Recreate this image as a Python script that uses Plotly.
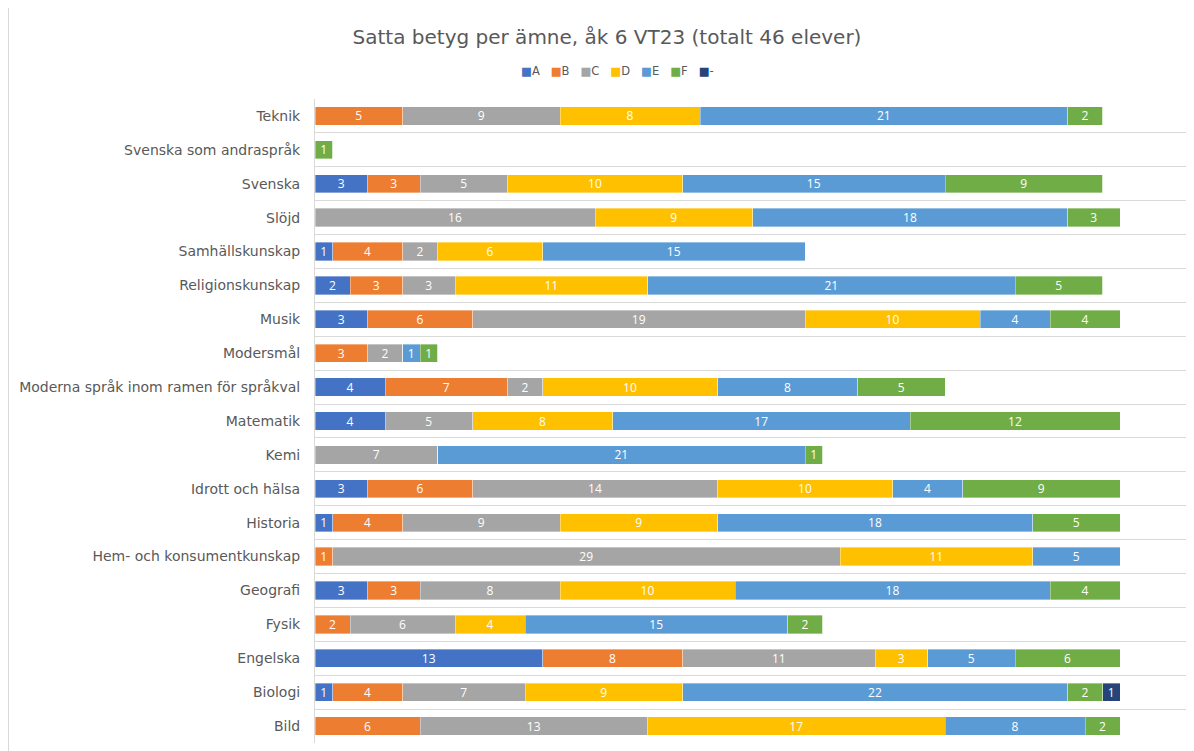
import plotly.graph_objects as go

subjects = ["Bild", "Biologi", "Engelska", "Fysik", "Geografi",
            "Hem- och konsumentkunskap", "Historia", "Idrott och hälsa", "Kemi",
            "Matematik", "Moderna språk inom ramen för språkval", "Modersmål",
            "Musik", "Religionskunskap", "Samhällskunskap", "Slöjd", "Svenska",
            "Svenska som andraspråk", "Teknik"]

grade_A = [0, 1, 13, 0, 3, 0, 1, 3, 0, 4, 4, 0, 3, 2, 1, 0, 3, 0, 0]
grade_B = [6, 4, 8, 2, 3, 1, 4, 6, 0, 0, 7, 3, 6, 3, 4, 0, 3, 0, 5]
grade_C = [13, 7, 11, 6, 8, 29, 9, 14, 7, 5, 2, 2, 19, 3, 2, 16, 5, 0, 9]
grade_D = [17, 9, 3, 4, 10, 11, 9, 10, 0, 8, 10, 0, 10, 11, 6, 9, 10, 0, 8]
grade_E = [8, 22, 5, 15, 18, 5, 18, 4, 21, 17, 8, 1, 4, 21, 15, 18, 15, 0, 21]
grade_F = [2, 2, 6, 2, 4, 0, 5, 9, 1, 12, 5, 1, 4, 5, 0, 3, 9, 1, 2]
grade_dash = [0, 1, 0, 0, 0, 0, 0, 0, 0, 0, 0, 0, 0, 0, 0, 0, 0, 0, 0]

grade_names = ["A", "B", "C", "D", "E", "F", "-"]
grade_values = [grade_A, grade_B, grade_C, grade_D, grade_E, grade_F, grade_dash]
grade_colors = ["#4472C4", "#ED7D31", "#A5A5A5", "#FFC000", "#5B9BD5", "#70AD47", "#264478"]

LABEL_FONT = "DejaVu Sans"
BAR_FONT = "Open Sans"
GRAY = "#595959"

fig = go.Figure()
for name, vals, color in zip(grade_names, grade_values, grade_colors):
    fig.add_trace(go.Bar(
        name=name,
        y=subjects,
        x=vals,
        orientation="h",
        marker=dict(color=color, line=dict(width=0.8, color="rgba(255,255,255,0.45)")),
        text=[str(v) if v else "" for v in vals],
        textposition="inside",
        insidetextanchor="middle",
        textangle=0,
        textfont=dict(color="white", size=12, family=BAR_FONT),
        showlegend=False,
    ))

# legend drawn as one line of text: coloured squares followed by grade names
legend_text = "&nbsp;&nbsp;&nbsp;".join(
    f"<span style='color:{c}'>■</span><span style='color:{GRAY}'>{n}</span>"
    for n, c in zip(grade_names, grade_colors)
)

W, H = 1186, 743
fig.update_layout(
    barmode="stack",
    bargap=0.46,
    width=W,
    height=H,
    autosize=False,
    margin=dict(l=307, r=4, t=91, b=8),
    paper_bgcolor="white",
    plot_bgcolor="white",
    uniformtext=dict(minsize=12, mode="show"),
    title=dict(
        text="Satta betyg per ämne, åk 6 VT23 (totalt 46 elever)",
        x=599 / W, xanchor="center", y=1 - 29 / H, yanchor="middle",
        font=dict(size=20, color=GRAY, family=LABEL_FONT),
    ),
    annotations=[dict(
        text=legend_text, xref="paper", yref="paper",
        x=(609 - 307) / 875, xanchor="center",
        y=1 + (91 - 63) / 644, yanchor="middle",
        showarrow=False, font=dict(size=11.5, family=LABEL_FONT, color=GRAY),
    )],
    xaxis=dict(range=[0, 50], showgrid=False, zeroline=False,
               showticklabels=False, ticks="", showline=False),
    yaxis=dict(
        type="category",
        tickson="boundaries",
        showgrid=True, gridcolor="#D9D9D9", gridwidth=1,
        showline=True, linecolor="#D9D9D9", linewidth=1,
        ticks="", ticklen=0,
        automargin=False,
        tickfont=dict(size=14, color=GRAY, family=LABEL_FONT),
        ticklabelstandoff=11,
        range=[-0.5, 18.5],
    ),
    shapes=[dict(type="line", xref="paper", yref="paper",
                 x0=-306.5 / 875, x1=-306.5 / 875, y0=-0.05, y1=1.2,
                 line=dict(color="#D9D9D9", width=1))],
)

fig.write_html("out.html")
